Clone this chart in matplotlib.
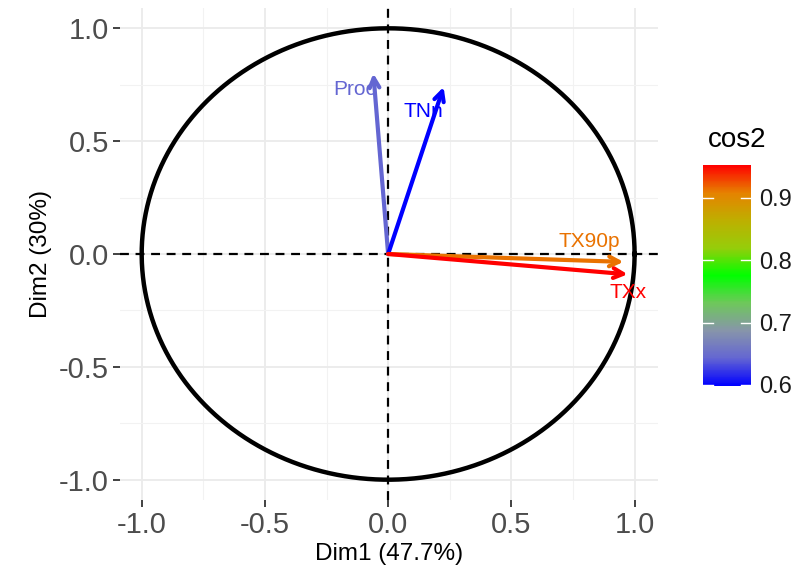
import numpy as np
import matplotlib.pyplot as plt
from matplotlib.colors import LinearSegmentedColormap, Normalize

plt.rcParams['font.family'] = ['Liberation Sans', 'DejaVu Sans']

# ---- Data: variable coordinates on Dim1 / Dim2 ----
variables = ['Proc', 'TNn', 'TX90p', 'TXx']
dim1 = [-0.06, 0.225, 0.955, 0.972]
dim2 = [0.80, 0.74, -0.035, -0.09]
# label offsets (data units) from arrow tips
lab_dx = [-0.075, -0.08, -0.14, 0.0]
lab_dy = [-0.07, -0.11, 0.09, -0.08]

cos2 = np.array(dim1) ** 2 + np.array(dim2) ** 2
cb_ticks = [0.6, 0.7, 0.8, 0.9]

# ---- Colour scale (blue -> green -> red, Lab-like ramp) ----
stops = ['#0000FF', '#6466D2', '#8795AA', '#6EC85A', '#00FF00',
         '#96CD0A', '#BEAF00', '#E68200', '#FF0000']
cmap = LinearSegmentedColormap.from_list('cos2', stops)
norm = Normalize(vmin=cos2.min(), vmax=cos2.max())

fig = plt.figure(figsize=(8.08, 5.79), dpi=100)
ax = fig.add_axes([120 / 808, 79 / 579, 538 / 808, 492 / 579])

# grid like theme_minimal
ax.set_xlim(-1.088, 1.095)
ax.set_ylim(-1.09, 1.09)
ax.set_xticks([-1.0, -0.5, 0.0, 0.5, 1.0])
ax.set_yticks([-1.0, -0.5, 0.0, 0.5, 1.0])
ax.set_xticks([-0.75, -0.25, 0.25, 0.75], minor=True)
ax.set_yticks([-0.75, -0.25, 0.25, 0.75], minor=True)
ax.grid(which='major', color='#EBEBEB', lw=1.3, zorder=0)
ax.grid(which='minor', color='#F2F2F2', lw=0.8, zorder=0)
for s in ax.spines.values():
    s.set_visible(False)
ax.tick_params(which='major', length=5, width=1.3, color='#333333',
               labelsize=21, labelcolor='#4D4D4D', pad=3)
ax.tick_params(which='minor', length=0)
ax.set_xticklabels(['-1.0', '-0.5', '0.0', '0.5', '1.0'])
ax.set_yticklabels(['-1.0', '-0.5', '0.0', '0.5', '1.0'])
ax.set_axisbelow(True)

# reference lines and circle
ax.axhline(0, color='black', ls=(0, (4, 3)), lw=1.6, zorder=1)
ax.axvline(0, color='black', ls=(0, (4, 3)), lw=1.6, zorder=1)
t = np.linspace(0, 2 * np.pi, 400)
ax.plot(np.cos(t), np.sin(t), color='black', lw=3.2, zorder=2)

# arrows + labels
for name, x, y, c, dx, dy in zip(variables, dim1, dim2, cos2, lab_dx, lab_dy):
    col = cmap(norm(c))
    ax.annotate('', xy=(x, y), xytext=(0, 0),
                arrowprops=dict(arrowstyle='->,head_length=0.7,head_width=0.35',
                                color=col, lw=3.0, shrinkA=0, shrinkB=0),
                zorder=3)
    ax.text(x + dx, y + dy, name, color=col, fontsize=15,
            ha='center', va='center', zorder=4)

ax.set_xlabel('Dim1 (47.7%)', fontsize=17.5, labelpad=3)
ax.set_ylabel('Dim2 (30%)', fontsize=17.5, labelpad=5)

# ---- Colour bar ----
cax = fig.add_axes([703 / 808, (579 - 386) / 579, 48 / 808, 221 / 579])
cb = fig.colorbar(plt.cm.ScalarMappable(norm=norm, cmap=cmap), cax=cax)
cb.outline.set_visible(False)
cb.set_ticks(cb_ticks)
cb.set_ticklabels([f'{v:.1f}' for v in cb_ticks])
cax.tick_params(length=0, labelsize=17, labelcolor='#1A1A1A', pad=6)
for v in cb_ticks:
    cax.plot([0, 0.2], [v, v], color='white', lw=1, transform=cax.get_yaxis_transform())
    cax.plot([0.8, 1], [v, v], color='white', lw=1, transform=cax.get_yaxis_transform())
fig.text(737 / 808, 1 - 140 / 579, 'cos2', fontsize=20, ha='center', va='center')

fig.savefig('out.png', dpi=100)
